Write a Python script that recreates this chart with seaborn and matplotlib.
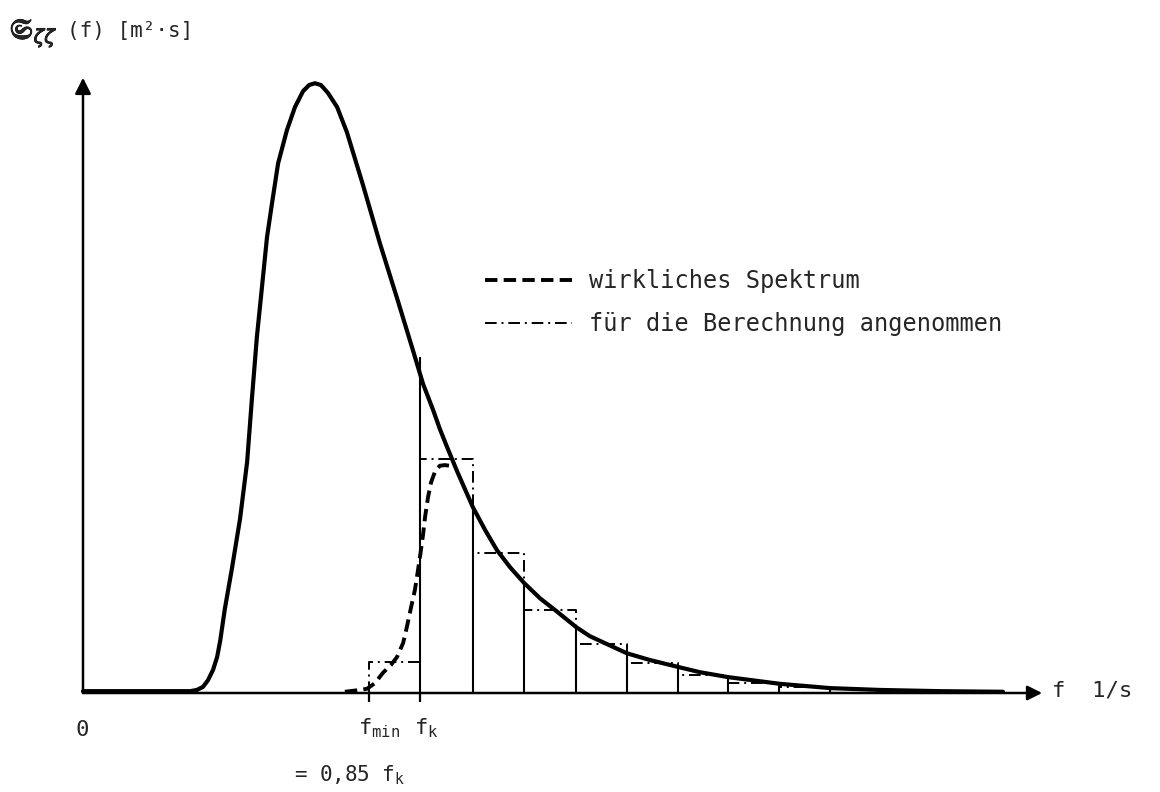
import numpy as np
import pandas as pd
import matplotlib
matplotlib.use("Agg")
import matplotlib.pyplot as plt
import matplotlib.patheffects as pe
import seaborn as sns

# frequency in units of f_k, spectrum normalised to its peak
f_actual = [0.0, 0.199, 0.303, 0.318, 0.338, 0.356, 0.371, 0.386, 0.398, 0.407,
            0.421, 0.442, 0.466, 0.487, 0.501, 0.516, 0.531, 0.546, 0.561, 0.579,
            0.605, 0.629, 0.653, 0.671, 0.688, 0.706, 0.727, 0.754, 0.783, 0.831,
            0.881, 0.932, 0.979, 1.009, 1.039, 1.059, 1.080, 1.110, 1.157, 1.193,
            1.228, 1.267, 1.309, 1.356, 1.407, 1.463, 1.504, 1.555, 1.614, 1.682,
            1.763, 1.831, 1.914, 2.068, 2.217, 2.365, 2.543, 2.730]
s_actual = [0.003, 0.003, 0.003, 0.003, 0.005, 0.010, 0.021, 0.038, 0.059, 0.085,
            0.138, 0.204, 0.285, 0.378, 0.480, 0.583, 0.664, 0.746, 0.802, 0.867,
            0.921, 0.959, 0.985, 0.995, 0.998, 0.995, 0.982, 0.959, 0.918, 0.831,
            0.736, 0.646, 0.561, 0.506, 0.463, 0.432, 0.403, 0.363, 0.304, 0.267,
            0.234, 0.206, 0.180, 0.155, 0.133, 0.108, 0.093, 0.080, 0.065, 0.054,
            0.043, 0.034, 0.026, 0.015, 0.008, 0.005, 0.003, 0.002]

# "wirkliches Spektrum" (dashed)
f_real = [0.777, 0.822, 0.843, 0.866, 0.890, 0.914, 0.932, 0.950, 0.961, 0.973,
          0.985, 0.994, 1.000, 1.009, 1.015, 1.024, 1.033, 1.045, 1.059, 1.074, 1.086]
s_real = [0.002, 0.005, 0.007, 0.016, 0.033, 0.046, 0.059, 0.082, 0.108, 0.139,
          0.169, 0.201, 0.223, 0.259, 0.288, 0.321, 0.345, 0.363, 0.372, 0.373, 0.372]

# "für die Berechnung angenommen" (steps)
bin_edges = [0.849, 1.0, 1.157, 1.309, 1.463, 1.614, 1.766, 1.914, 2.065, 2.217, 2.365, 2.52]
bin_heights = [0.051, 0.383, 0.229, 0.136, 0.080, 0.049, 0.029, 0.016, 0.010, 0.006, 0.004]

# solid verticals at the bin edges (up to the curve)
edge_pos = [1.0, 1.157, 1.309, 1.463, 1.614, 1.766, 1.914, 2.065, 2.217, 2.365]
edge_top = [0.550, 0.304, 0.180, 0.108, 0.065, 0.043, 0.026, 0.015, 0.008, 0.005]

sns.set_theme(style="white")
plt.rcParams['font.family'] = ['DejaVu Sans Mono', 'DejaVu Sans']
plt.rcParams['mathtext.fontset'] = 'dejavusans'

fig = plt.figure(figsize=(11.6, 7.92), dpi=100)
ax = fig.add_axes([0, 0, 1, 1])
ax.set_xlim(-83 / 337, (1160 - 83) / 337)
ax.set_ylim((693 - 792) / 611, 693 / 611)
ax.axis('off')

df_actual = pd.DataFrame({'f': f_actual, 'S': s_actual})
df_real = pd.DataFrame({'f': f_real, 'S': s_real})

sns.lineplot(data=df_actual, x='f', y='S', color='black', lw=3.0,
             estimator=None, sort=False, ax=ax, legend=False)
sns.lineplot(data=df_real, x='f', y='S', color='black', lw=2.8,
             estimator=None, sort=False, ax=ax, legend=False,
             linestyle=(0, (3.2, 1.6)))
dashed = ax.lines[-1]

# step outline (dash-dot)
xs = [bin_edges[0]] + bin_edges
ys = [0] + bin_heights + [0]
step_line, = ax.step(xs, ys, where='post', color='black', lw=1.4,
                     linestyle=(0, (6, 2.5, 1, 2.5)))

ax.vlines(edge_pos, 0, edge_top, color='black', lw=1.5)

# axes with arrows
ax.annotate('', xy=(2.846, 0), xytext=(0, 0),
            arrowprops=dict(arrowstyle='-|>', lw=1.8, color='black',
                            mutation_scale=22, shrinkA=0, shrinkB=0))
ax.annotate('', xy=(0, 1.007), xytext=(0, 0),
            arrowprops=dict(arrowstyle='-|>', lw=1.8, color='black',
                            mutation_scale=24, shrinkA=0, shrinkB=0))
ax.vlines([0.849, 1.0], -0.014, 0, color='black', lw=1.6)

fs = 16
ax.text(-0.003, -0.061, '0', ha='center', va='center', fontsize=fs)
ax.text(0.88, -0.058, r'f$_{\mathtt{min}}$', ha='center', va='center', fontsize=fs)
ax.text(1.02, -0.058, r'f$_{\mathtt{k}}$', ha='center', va='center', fontsize=fs)
ax.text(0.79, -0.135, r'= 0,85 f$_{\mathtt{k}}$', ha='center', va='center', fontsize=15)
ax.text(2.875, 0.004, 'f  1/s', ha='left', va='center', fontsize=fs)

# y label: fraktur S with subscripts, then unit
ax.text(-0.218, 1.079, r'$\mathfrak{S}_{\zeta\zeta}$', ha='left', va='center',
        fontsize=20, path_effects=[pe.withStroke(linewidth=0.6, foreground='black')])
ax.text(-0.048, 1.084, '(f) [m²·s]', ha='left', va='center', fontsize=15)

ax.legend([dashed, step_line], ['wirkliches Spektrum', 'für die Berechnung angenommen'],
          loc='upper left', bbox_to_anchor=(485 / 1160, 1 - 269 / 792),
          frameon=False, fontsize=17, handlelength=3.7, handletextpad=0.7,
          labelspacing=0.8, borderpad=0, borderaxespad=0)

fig.savefig('out.png', dpi=100)
plt.close(fig)
